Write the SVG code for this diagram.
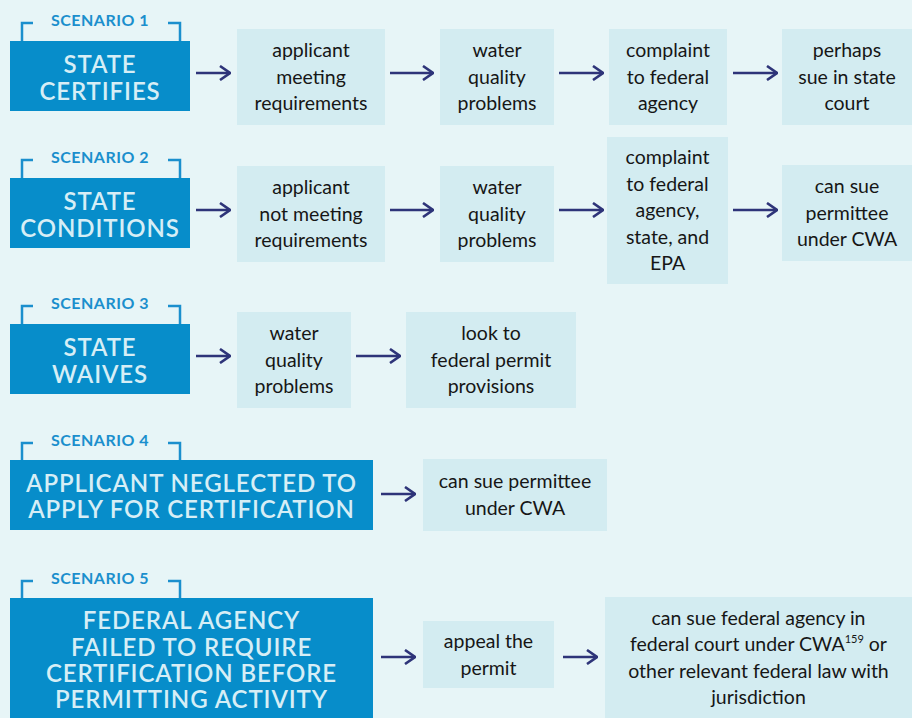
<svg xmlns="http://www.w3.org/2000/svg" width="912" height="718" viewBox="0 0 912 718">
<defs>
<style>
.bg{fill:#e7f5f7}
.tb{fill:#078dca}
.tt{font-family:Lato,"Open Sans",sans-serif;font-size:24px;font-weight:600;fill:#d6eef6;letter-spacing:0.9px;text-anchor:middle}
.lbl{font-family:Lato,"Open Sans",sans-serif;font-size:16px;font-weight:700;fill:#1b8fcd;letter-spacing:0.5px;text-anchor:middle}
.br{fill:none;stroke:#1b8fcd;stroke-width:2.5}
.bx{fill:#d3ecf1}
.bt{font-family:Lato,"Open Sans",sans-serif;font-size:19.5px;fill:#161616;text-anchor:middle}
.ar{fill:none;stroke:#2e3479;stroke-width:2.6;stroke-linecap:butt;stroke-linejoin:miter}
</style>
<marker id="ah" viewBox="0 0 12 16" refX="11" refY="8" markerWidth="12" markerHeight="16" markerUnits="userSpaceOnUse" orient="auto">
<path d="M1,1 L11,8 L1,15" fill="none" stroke="#2e3479" stroke-width="2.6"/>
</marker>
</defs>
<rect class="bg" x="0" y="0" width="912" height="718"/>

<g id="scenario1">
<path class="br" d="M22,41 V23 H33 M168,23 H180 V41"/>
<text class="lbl" x="100" y="26">SCENARIO 1</text>
<rect class="tb" x="10" y="41" width="180" height="70"/>
<text class="tt" x="100" y="73">STATE</text>
<text class="tt" x="100" y="100">CERTIFIES</text>
</g>
<g id="s1n1"><rect class="bx" x="237" y="29" width="148" height="96"/>
<text class="bt" x="311" y="57">applicant</text><text class="bt" x="311" y="83.5">meeting</text><text class="bt" x="311" y="110">requirements</text></g>
<g id="s1n2"><rect class="bx" x="440" y="29" width="114" height="96"/>
<text class="bt" x="497" y="57">water</text><text class="bt" x="497" y="83.5">quality</text><text class="bt" x="497" y="110">problems</text></g>
<g id="s1n3"><rect class="bx" x="609" y="29" width="118" height="96"/>
<text class="bt" x="668" y="57">complaint</text><text class="bt" x="668" y="83.5">to federal</text><text class="bt" x="668" y="110">agency</text></g>
<g id="s1n4"><rect class="bx" x="782" y="29" width="130" height="96"/>
<text class="bt" x="847" y="57">perhaps</text><text class="bt" x="847" y="83.5">sue in state</text><text class="bt" x="847" y="110">court</text></g>

<g id="scenario2">
<path class="br" d="M22,178 V160 H33 M168,160 H180 V178"/>
<text class="lbl" x="100" y="163">SCENARIO 2</text>
<rect class="tb" x="10" y="178" width="180" height="70"/>
<text class="tt" x="100" y="210">STATE</text>
<text class="tt" x="100" y="237">CONDITIONS</text>
</g>
<g id="s2n1"><rect class="bx" x="237" y="166" width="148" height="96"/>
<text class="bt" x="311" y="194">applicant</text><text class="bt" x="311" y="220.5">not meeting</text><text class="bt" x="311" y="247">requirements</text></g>
<g id="s2n2"><rect class="bx" x="440" y="166" width="114" height="96"/>
<text class="bt" x="497" y="194">water</text><text class="bt" x="497" y="220.5">quality</text><text class="bt" x="497" y="247">problems</text></g>
<g id="s2n3"><rect class="bx" x="607" y="137" width="121" height="147"/>
<text class="bt" x="667.5" y="164">complaint</text><text class="bt" x="667.5" y="190.5">to federal</text><text class="bt" x="667.5" y="217">agency,</text><text class="bt" x="667.5" y="243.5">state, and</text><text class="bt" x="667.5" y="270">EPA</text></g>
<g id="s2n4"><rect class="bx" x="782" y="165" width="130" height="96"/>
<text class="bt" x="847" y="193">can sue</text><text class="bt" x="847" y="219.5">permittee</text><text class="bt" x="847" y="246">under CWA</text></g>

<g id="scenario3">
<path class="br" d="M22,324 V306 H33 M168,306 H180 V324"/>
<text class="lbl" x="100" y="309">SCENARIO 3</text>
<rect class="tb" x="10" y="324" width="180" height="70"/>
<text class="tt" x="100" y="356">STATE</text>
<text class="tt" x="100" y="383">WAIVES</text>
</g>
<g id="s3n1"><rect class="bx" x="237" y="312" width="114" height="96"/>
<text class="bt" x="294" y="340">water</text><text class="bt" x="294" y="366.5">quality</text><text class="bt" x="294" y="393">problems</text></g>
<g id="s3n2"><rect class="bx" x="406" y="312" width="170" height="96"/>
<text class="bt" x="491" y="340">look to</text><text class="bt" x="491" y="366.5">federal permit</text><text class="bt" x="491" y="393">provisions</text></g>

<g id="scenario4">
<path class="br" d="M22,460 V443 H33 M168,443 H180 V460"/>
<text class="lbl" x="100" y="446">SCENARIO 4</text>
<rect class="tb" x="10" y="460" width="363" height="70"/>
<text class="tt" x="191.5" y="492">APPLICANT NEGLECTED TO</text>
<text class="tt" x="191.5" y="518">APPLY FOR CERTIFICATION</text>
</g>
<g id="s4n1"><rect class="bx" x="423" y="459" width="184" height="72"/>
<text class="bt" x="515" y="488">can sue permittee</text><text class="bt" x="515" y="514.5">under CWA</text></g>

<g id="scenario5">
<path class="br" d="M22,598 V581 H33 M168,581 H180 V598"/>
<text class="lbl" x="100" y="584">SCENARIO 5</text>
<rect class="tb" x="10" y="598" width="363" height="120"/>
<text class="tt" x="191.5" y="629">FEDERAL AGENCY</text>
<text class="tt" x="191.5" y="656">FAILED TO REQUIRE</text>
<text class="tt" x="191.5" y="682">CERTIFICATION BEFORE</text>
<text class="tt" x="191.5" y="708">PERMITTING ACTIVITY</text>
</g>
<g id="s5n1"><rect class="bx" x="423" y="621" width="131" height="67"/>
<text class="bt" x="488.5" y="648">appeal the</text><text class="bt" x="488.5" y="674.5">permit</text></g>
<g id="s5n2"><rect class="bx" x="605" y="597" width="307" height="121"/>
<text class="bt" x="758.5" y="624.5">can sue federal agency in</text>
<text class="bt" x="758.5" y="651">federal court under CWA<tspan font-size="11" dy="-8">159</tspan><tspan dy="8"> or</tspan></text>
<text class="bt" x="758.5" y="677.5">other relevant federal law with</text>
<text class="bt" x="758.5" y="704">jurisdiction</text></g>

<g id="connectors">
<path class="ar" marker-end="url(#ah)" d="M196,73 H230"/>
<path class="ar" marker-end="url(#ah)" d="M390,73 H433"/>
<path class="ar" marker-end="url(#ah)" d="M559,73 H603"/>
<path class="ar" marker-end="url(#ah)" d="M733,73 H777"/>
<path class="ar" marker-end="url(#ah)" d="M196,210 H230"/>
<path class="ar" marker-end="url(#ah)" d="M390,210 H433"/>
<path class="ar" marker-end="url(#ah)" d="M559,210 H603"/>
<path class="ar" marker-end="url(#ah)" d="M733,210 H777"/>
<path class="ar" marker-end="url(#ah)" d="M196,356 H230"/>
<path class="ar" marker-end="url(#ah)" d="M356,356 H400"/>
<path class="ar" marker-end="url(#ah)" d="M381,494 H415"/>
<path class="ar" marker-end="url(#ah)" d="M381,657 H415"/>
<path class="ar" marker-end="url(#ah)" d="M563,657 H597"/>
</g>
</svg>
